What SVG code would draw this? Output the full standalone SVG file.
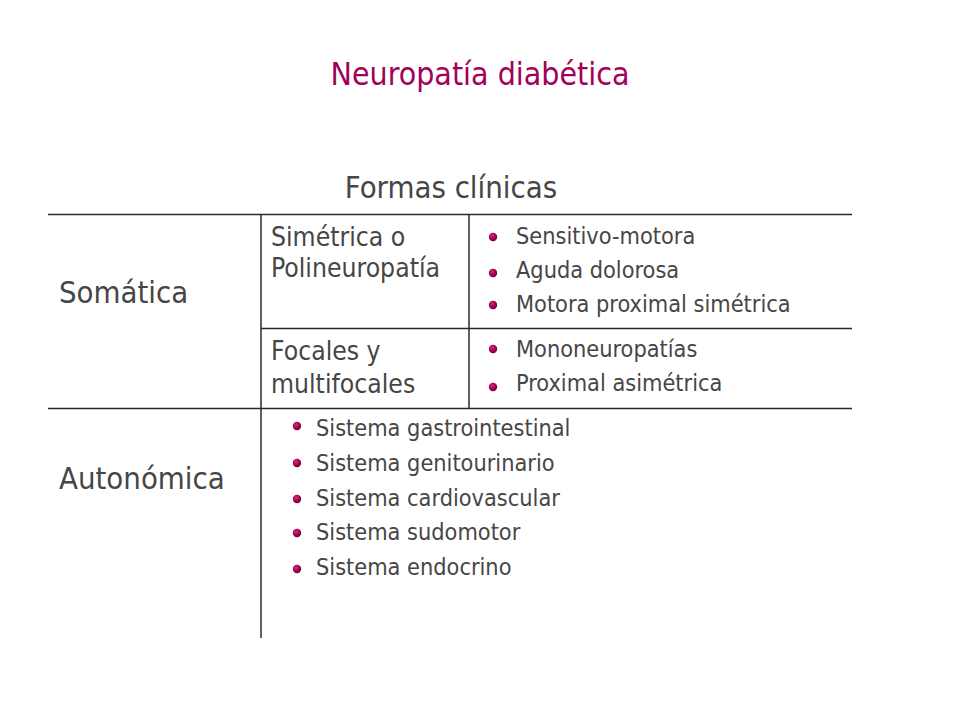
<svg xmlns="http://www.w3.org/2000/svg" width="960" height="720" viewBox="0 0 960 720">
<defs>
<radialGradient id="dot" cx="0.4" cy="0.35" r="0.7">
<stop offset="0" stop-color="#d8306e"/>
<stop offset="0.6" stop-color="#9a004c"/>
<stop offset="1" stop-color="#680036"/>
</radialGradient>
<style>
text{font-family:"DejaVu Sans Condensed","DejaVu Sans",sans-serif;fill:#464646}
.title{font-size:31.8px;fill:#a3005a}
.big{font-size:30.8px}
.sub{font-size:26.3px}
.item{font-size:23.3px}
.rule{stroke:#2a2a2a;stroke-width:1.5;fill:none}
.b{fill:url(#dot)}
</style>
</defs>
<rect width="960" height="720" fill="#ffffff"/>
<g id="title"><text class="title" x="480" y="85" text-anchor="middle">Neuropatía diabética</text></g>
<g id="heading"><text class="big" x="451" y="198" text-anchor="middle">Formas clínicas</text></g>
<g id="grid">
<line class="rule" x1="48" y1="214.5" x2="852" y2="214.5"/>
<line class="rule" x1="261" y1="328.5" x2="852" y2="328.5"/>
<line class="rule" x1="48" y1="408.5" x2="852" y2="408.5"/>
<line class="rule" x1="261" y1="214.5" x2="261" y2="638"/>
<line class="rule" x1="469" y1="214.5" x2="469" y2="408.5"/>
</g>
<g id="somatica"><text class="big" x="59" y="303">Somática</text></g>
<g id="autonomica"><text class="big" x="59" y="489">Autonómica</text></g>
<g id="simetrica">
<text class="sub" x="271" y="246">Simétrica o</text>
<text class="sub" x="271" y="277">Polineuropatía</text>
</g>
<g id="focales">
<text class="sub" x="271" y="360">Focales y</text>
<text class="sub" x="271" y="392.5">multifocales</text>
</g>
<g id="simetrica-items">
<circle class="b" cx="493" cy="237" r="4.2"/><text class="item" x="516" y="244">Sensitivo-motora</text>
<circle class="b" cx="493" cy="273" r="4.2"/><text class="item" x="516" y="277.5">Aguda dolorosa</text>
<circle class="b" cx="493" cy="305" r="4.2"/><text class="item" x="516" y="311.5">Motora proximal simétrica</text>
</g>
<g id="focales-items">
<circle class="b" cx="493" cy="349" r="4.2"/><text class="item" x="516" y="357">Mononeuropatías</text>
<circle class="b" cx="493" cy="387" r="4.2"/><text class="item" x="516" y="391">Proximal asimétrica</text>
</g>
<g id="autonomica-items">
<circle class="b" cx="297" cy="426" r="4.2"/><text class="item" x="316" y="436">Sistema gastrointestinal</text>
<circle class="b" cx="297" cy="463" r="4.2"/><text class="item" x="316" y="470.5">Sistema genitourinario</text>
<circle class="b" cx="297" cy="499" r="4.2"/><text class="item" x="316" y="505.5">Sistema cardiovascular</text>
<circle class="b" cx="297" cy="533" r="4.2"/><text class="item" x="316" y="540">Sistema sudomotor</text>
<circle class="b" cx="297" cy="569" r="4.2"/><text class="item" x="316" y="574.5">Sistema endocrino</text>
</g>
</svg>
